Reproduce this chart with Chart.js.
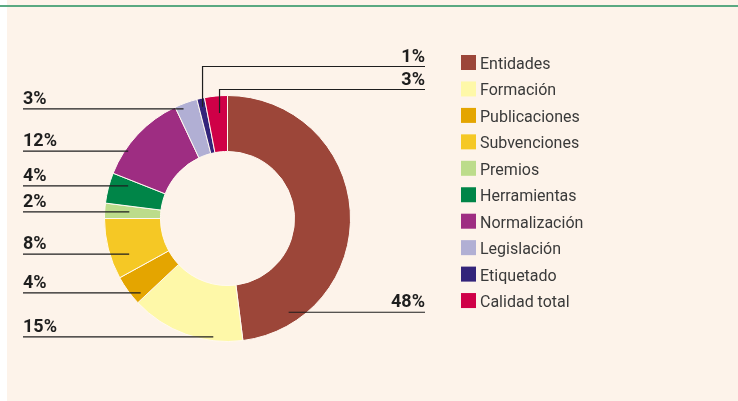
<!DOCTYPE html>
<html>
<head>
<meta charset="utf-8">
<script src="https://cdn.jsdelivr.net/npm/chart.js@4/dist/chart.umd.min.js"></script>
<style>
  html, body { margin: 0; padding: 0; background: #ffffff; }
  #wrap { position: relative; width: 738px; height: 401px; overflow: hidden; }
  #paper { position: absolute; left: 7px; top: 0; right: 0; bottom: 0; background: #fdf3ea; }
  #rule { position: absolute; left: 0; top: 5px; width: 738px; height: 2px; background: #5aa982; }
  #c { position: absolute; left: 0; top: 0; }
</style>
</head>
<body>
<div id="wrap">
  <div id="paper"></div>
  <div id="rule"></div>
  <canvas id="c" width="738" height="401"></canvas>
</div>
<script>
const categories = ['Entidades', 'Formación', 'Publicaciones', 'Subvenciones', 'Premios',
  'Herramientas', 'Normalización', 'Legislación', 'Etiquetado', 'Calidad total'];
const shares = [48, 15, 4, 8, 2, 4, 12, 3, 1, 3];
const colors = ['#9c4639', '#fef8a8', '#e4a500', '#f5c825', '#bcdc8b',
  '#008548', '#9e2d82', '#b1afd4', '#33247a', '#cf0047'];

// where each leader line touches its slice: fraction along the slice, fraction of the outer radius
const leaders = [
  { side: 'right', frac: 0.85, r: 0.91 },
  { side: 'left', frac: 0.26, r: 0.97 },
  { side: 'left', frac: 0.18, r: 0.93 },
  { side: 'left', frac: 0.31, r: 0.85 },
  { side: 'left', frac: 0.53, r: 0.80 },
  { side: 'left', frac: 0.76, r: 0.85 },
  { side: 'left', frac: 0.29, r: 0.975 },
  { side: 'left', frac: 0.31, r: 0.96 },
  { side: 'right', frac: 0.5, r: 0.93, elbow: -29 },
  { side: 'right', frac: 0.6, r: 0.86, elbow: -6 }
];

const leftX = 23, rightX = 425;
const labelFont = 'bold 18px Roboto';
const legendFont = '16px Roboto';

const leaderPlugin = {
  id: 'leaders',
  afterDatasetsDraw(chart) {
    const ctx = chart.ctx;
    const meta = chart.getDatasetMeta(0);
    ctx.save();
    ctx.strokeStyle = '#1e1e1e';
    ctx.lineWidth = 1.2;
    ctx.fillStyle = '#1e1e1e';
    ctx.font = labelFont;
    meta.data.forEach((arc, i) => {
      const p = arc.getProps(['x', 'y', 'startAngle', 'endAngle', 'outerRadius']);
      const L = leaders[i];
      const a = p.startAngle + (p.endAngle - p.startAngle) * L.frac;
      const r = p.outerRadius * L.r;
      const ex = p.x + r * Math.cos(a);
      const ey = p.y + r * Math.sin(a);
      const text = shares[i] + '%';
      ctx.beginPath();
      if (L.elbow !== undefined) {
        const ly = p.y - p.outerRadius + L.elbow;
        ctx.moveTo(rightX, ly);
        ctx.lineTo(ex, ly);
        ctx.lineTo(ex, ey);
        ctx.stroke();
        ctx.textAlign = 'right';
        ctx.fillText(text, rightX, ly - 5);
      } else if (L.side === 'left') {
        ctx.moveTo(leftX, ey);
        ctx.lineTo(ex, ey);
        ctx.stroke();
        ctx.textAlign = 'left';
        ctx.fillText(text, leftX, ey - 5);
      } else {
        ctx.moveTo(ex, ey);
        ctx.lineTo(rightX, ey);
        ctx.stroke();
        ctx.textAlign = 'right';
        ctx.fillText(text, rightX, ey - 5);
      }
    });
    ctx.restore();
  }
};

const legendPlugin = {
  id: 'sideLegend',
  afterDraw(chart) {
    const ctx = chart.ctx;
    ctx.save();
    ctx.font = legendFont;
    ctx.textAlign = 'left';
    ctx.textBaseline = 'alphabetic';
    categories.forEach((name, i) => {
      const y = 55 + i * 26.45;
      ctx.fillStyle = colors[i];
      ctx.fillRect(461, y, 15, 15);
      ctx.fillStyle = '#3a3a3a';
      ctx.fillText(name, 480, y + 14);
    });
    ctx.restore();
  }
};

new Chart(document.getElementById('c'), {
  type: 'doughnut',
  data: {
    labels: categories,
    datasets: [{
      data: shares,
      backgroundColor: colors,
      borderColor: '#fff8f0',
      borderWidth: 1
    }]
  },
  options: {
    responsive: false,
    animation: false,
    cutout: '54.5%',
    layout: { padding: { left: 104, top: 95, right: 387, bottom: 59 } },
    plugins: {
      legend: { display: false },
      tooltip: { enabled: false }
    }
  },
  plugins: [leaderPlugin, legendPlugin]
});
</script>
</body>
</html>
